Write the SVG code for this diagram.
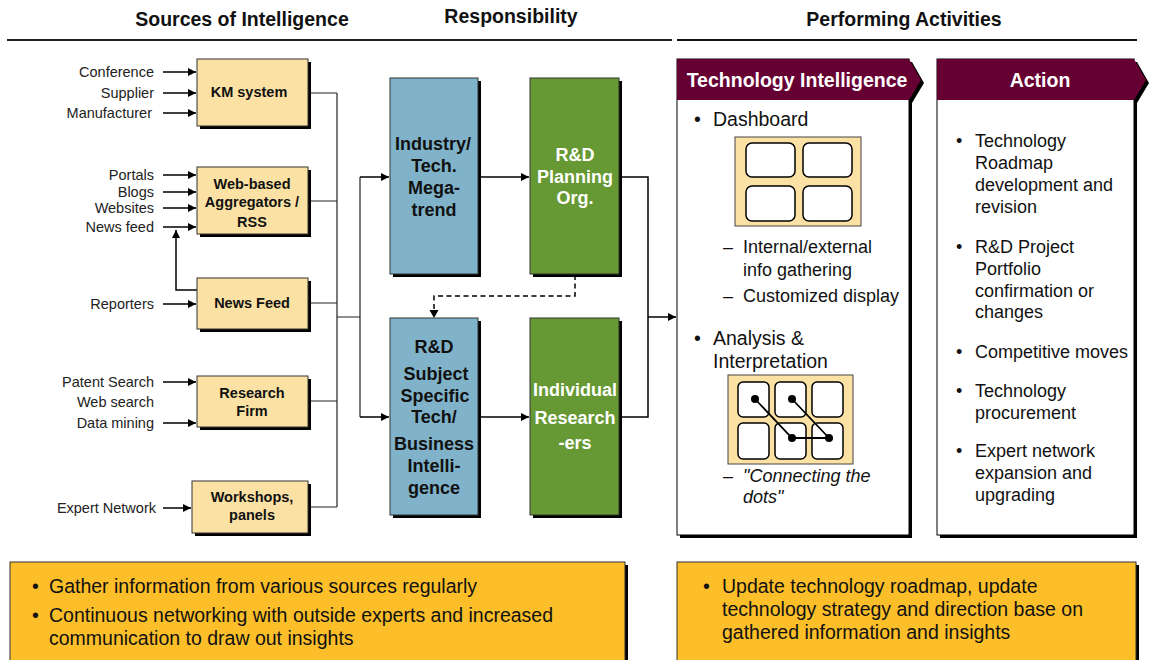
<svg xmlns="http://www.w3.org/2000/svg" width="1149" height="660" viewBox="0 0 1149 660">
<defs>
<marker id="arr" viewBox="0 0 10 10" refX="10" refY="5" markerWidth="8" markerHeight="8" markerUnits="userSpaceOnUse" orient="auto"><path d="M0,0 L10,5 L0,10 Z" fill="#000"/></marker>
<style>
text{font-family:"Liberation Sans",Arial,sans-serif;fill:#111}
.h{font-size:19.5px;font-weight:bold}
.src{font-size:14.5px;text-anchor:end;fill:#222}
.box{fill:#FBE2A4;stroke:#333;stroke-width:1}
.sh{fill:#000}
.bl{font-size:14.5px;font-weight:bold;text-anchor:middle}
.rt{font-size:18px;font-weight:bold;text-anchor:middle}
.wt{fill:#fff}
.blue{fill:#80B3C9;stroke:#333;stroke-width:1}
.green{fill:#669933;stroke:#333;stroke-width:1}
.wire{fill:none;stroke:#222;stroke-width:1.2}
.flow{fill:none;stroke:#000;stroke-width:1.5}
.in{fill:none;stroke:#000;stroke-width:1.5;marker-end:url(#arr)}
.dash{fill:none;stroke:#000;stroke-width:1.5;stroke-dasharray:5,3.5}
.big{font-size:19.5px}
.mid{font-size:18px}
.ph{font-size:19.5px;font-weight:bold;fill:#fff;text-anchor:middle}
.panel{fill:#fff;stroke:#000;stroke-width:1}
.cap{fill:#660033}
.gold{fill:#FCBF29;stroke:#333;stroke-width:1}
.tile{fill:#fff;stroke:#000;stroke-width:1.5}
.tray{fill:#FBE2A4;stroke:#444;stroke-width:1}
</style>
</defs>

<rect width="1149" height="660" fill="#fff"/>

<!-- column headings -->
<g id="headings">
<text class="h" x="242" y="26" text-anchor="middle">Sources of Intelligence</text>
<text class="h" x="511" y="23" text-anchor="middle">Responsibility</text>
<text class="h" x="904" y="26" text-anchor="middle">Performing Activities</text>
<line x1="7" y1="40" x2="672" y2="40" stroke="#222" stroke-width="2"/>
<line x1="677" y1="40" x2="1137" y2="40" stroke="#111" stroke-width="2"/>
</g>

<!-- connectors -->
<g id="connectors">
<!-- inputs to source boxes -->
<line class="in" x1="163" y1="72" x2="196" y2="72"/>
<line class="in" x1="163" y1="93" x2="196" y2="93"/>
<line class="in" x1="163" y1="113" x2="196" y2="113"/>
<line class="in" x1="163" y1="175" x2="196" y2="175"/>
<line class="in" x1="163" y1="192" x2="196" y2="192"/>
<line class="in" x1="163" y1="208" x2="196" y2="208"/>
<line class="in" x1="163" y1="227" x2="196" y2="227"/>
<line class="in" x1="163" y1="304" x2="196" y2="304"/>
<line class="in" x1="163" y1="382" x2="196" y2="382"/>
<line class="in" x1="163" y1="423" x2="196" y2="423"/>
<line class="in" x1="163" y1="508" x2="191" y2="508"/>
<!-- news feed loop back up -->
<path class="in" d="M197,290 H176 V230"/>
<!-- source bus -->
<path class="wire" d="M308,93 H337 M308,201 H337 M308,303 H337 M308,401 H337 M308,507 H337 M337,93 V507 M337,317 H360 M360,177 V417"/>
<line class="in" x1="360" y1="177" x2="389" y2="177"/>
<line class="in" x1="360" y1="417" x2="389" y2="417"/>
<!-- responsibility flow -->
<line class="in" x1="478" y1="177" x2="529" y2="177"/>
<line class="in" x1="478" y1="417" x2="529" y2="417"/>
<path class="flow" d="M619,177 H648 V417 H619"/>
<line class="in" x1="648" y1="317" x2="676" y2="317"/>
<path class="dash" d="M575,275 V296 H434 V310"/>
<path d="M429.5,310 L438.5,310 L434,318 Z" fill="#000"/>
</g>

<!-- source nodes -->
<g id="src-km">
<rect class="sh" x="200" y="62" width="111" height="67"/>
<rect class="box" x="197" y="59" width="111" height="67"/>
<text class="bl" x="249" y="97">KM system</text>
<text class="src" x="154" y="77">Conference</text>
<text class="src" x="154" y="98">Supplier</text>
<text class="src" x="152" y="118">Manufacturer</text>
</g>
<g id="src-web">
<rect class="sh" x="200" y="170" width="111" height="67"/>
<rect class="box" x="197" y="167" width="111" height="67"/>
<text class="bl" x="252" y="189">Web-based</text>
<text class="bl" x="252" y="207">Aggregators /</text>
<text class="bl" x="252" y="227">RSS</text>
<text class="src" x="154" y="180">Portals</text>
<text class="src" x="154" y="197">Blogs</text>
<text class="src" x="154" y="213">Websites</text>
<text class="src" x="154" y="232">News feed</text>
</g>
<g id="src-newsfeed">
<rect class="sh" x="200" y="281" width="111" height="51"/>
<rect class="box" x="197" y="278" width="111" height="51"/>
<text class="bl" x="252" y="308">News Feed</text>
<text class="src" x="154" y="309">Reporters</text>
</g>
<g id="src-research">
<rect class="sh" x="200" y="379" width="111" height="51"/>
<rect class="box" x="197" y="376" width="111" height="51"/>
<text class="bl" x="252" y="398">Research</text>
<text class="bl" x="252" y="416">Firm</text>
<text class="src" x="154" y="387">Patent Search</text>
<text class="src" x="154" y="407">Web search</text>
<text class="src" x="154" y="428">Data mining</text>
</g>
<g id="src-workshops">
<rect class="sh" x="195" y="484" width="116" height="52"/>
<rect class="box" x="192" y="481" width="116" height="52"/>
<text class="bl" x="252" y="502">Workshops,</text>
<text class="bl" x="252" y="520">panels</text>
<text class="src" x="156" y="513">Expert Network</text>
</g>

<!-- responsibility nodes -->
<g id="resp-megatrend">
<rect class="sh" x="393" y="81" width="88" height="196"/>
<rect class="blue" x="390" y="78" width="88" height="196"/>
<text class="rt" x="433" y="150">Industry/</text>
<text class="rt" x="434" y="172">Tech.</text>
<text class="rt" x="434" y="194">Mega-</text>
<text class="rt" x="434" y="216">trend</text>
</g>
<g id="resp-planning">
<rect class="sh" x="533" y="81" width="89" height="196"/>
<rect class="green" x="530" y="78" width="89" height="196"/>
<text class="rt wt" x="575" y="161">R&amp;D</text>
<text class="rt wt" x="575" y="183">Planning</text>
<text class="rt wt" x="575" y="204">Org.</text>
</g>
<g id="resp-subject">
<rect class="sh" x="393" y="321" width="88" height="197"/>
<rect class="blue" x="390" y="318" width="88" height="197"/>
<text class="rt" x="434" y="353">R&amp;D</text>
<text class="rt" x="436" y="380">Subject</text>
<text class="rt" x="435" y="402">Specific</text>
<text class="rt" x="434" y="423">Tech/</text>
<text class="rt" x="434" y="450">Business</text>
<text class="rt" x="434" y="472">Intelli-</text>
<text class="rt" x="434" y="494">gence</text>
</g>
<g id="resp-researchers">
<rect class="sh" x="533" y="321" width="89" height="197"/>
<rect class="green" x="530" y="318" width="89" height="197"/>
<text class="rt wt" x="575" y="396">Individual</text>
<text class="rt wt" x="575" y="424">Research</text>
<text class="rt wt" x="575" y="449">-ers</text>
</g>

<!-- Technology Intelligence panel -->
<g id="panel-ti">
<path class="sh" d="M680,62 H912 L924,83 L912,103 V538 H680 Z"/>
<rect class="panel" x="677" y="59" width="232" height="476"/>
<path class="cap" d="M677,59 H909 L921,80 L909,100 H677 Z"/>
<text class="ph" x="797" y="87">Technology Intelligence</text>
<text class="big" x="694" y="126">•</text>
<text class="big" x="713" y="126">Dashboard</text>
<rect class="tray" x="735" y="137" width="126" height="89"/>
<rect class="tile" x="746" y="143" width="49" height="34" rx="6"/>
<rect class="tile" x="803" y="143" width="49" height="34" rx="6"/>
<rect class="tile" x="746" y="186" width="49" height="35" rx="6"/>
<rect class="tile" x="803" y="186" width="49" height="35" rx="6"/>
<text class="mid" x="723" y="253">–</text>
<text class="mid" x="743" y="253">Internal/external</text>
<text class="mid" x="743" y="276">info gathering</text>
<text class="mid" x="723" y="302">–</text>
<text class="mid" x="743" y="302">Customized display</text>
<text class="big" x="694" y="345">•</text>
<text class="big" x="713" y="345">Analysis &amp;</text>
<text class="big" x="713" y="368">Interpretation</text>
<rect class="tray" x="728" y="375" width="125" height="89"/>
<rect class="tile" x="738" y="382" width="31" height="35" rx="5"/>
<rect class="tile" x="775" y="382" width="31" height="35" rx="5"/>
<rect class="tile" x="812" y="382" width="31" height="35" rx="5"/>
<rect class="tile" x="738" y="423" width="31" height="36" rx="5"/>
<rect class="tile" x="775" y="423" width="31" height="36" rx="5"/>
<rect class="tile" x="812" y="423" width="31" height="36" rx="5"/>
<path d="M755,399 L792,438 H829 L792,399" fill="none" stroke="#000" stroke-width="1.8"/>
<circle cx="755" cy="399" r="4"/>
<circle cx="792" cy="399" r="4"/>
<circle cx="792" cy="438" r="4"/>
<circle cx="829" cy="438" r="4"/>
<text class="mid" x="723" y="482">–</text>
<text class="mid" x="743" y="482" font-style="italic">"Connecting the</text>
<text class="mid" x="743" y="503" font-style="italic">dots"</text>
</g>

<!-- Action panel -->
<g id="panel-action">
<path class="sh" d="M940,62 H1137 L1149,83 L1137,103 V538 H940 Z"/>
<rect class="panel" x="937" y="59" width="197" height="476"/>
<path class="cap" d="M937,59 H1134 L1146,80 L1134,100 H937 Z"/>
<text class="ph" x="1040" y="87">Action</text>
<text class="mid" x="956" y="147">•</text>
<text class="mid" x="975" y="147">Technology</text>
<text class="mid" x="975" y="169">Roadmap</text>
<text class="mid" x="975" y="191">development and</text>
<text class="mid" x="975" y="213">revision</text>
<text class="mid" x="956" y="253">•</text>
<text class="mid" x="975" y="253">R&amp;D Project</text>
<text class="mid" x="975" y="275">Portfolio</text>
<text class="mid" x="975" y="297">confirmation or</text>
<text class="mid" x="975" y="318">changes</text>
<text class="mid" x="956" y="358">•</text>
<text class="mid" x="975" y="358">Competitive moves</text>
<text class="mid" x="956" y="397">•</text>
<text class="mid" x="975" y="397">Technology</text>
<text class="mid" x="975" y="419">procurement</text>
<text class="mid" x="956" y="457">•</text>
<text class="mid" x="975" y="457">Expert network</text>
<text class="mid" x="975" y="479">expansion and</text>
<text class="mid" x="975" y="501">upgrading</text>
</g>

<!-- summary notes -->
<g id="note-sources">
<rect class="sh" x="13" y="565" width="615" height="110"/>
<rect class="gold" x="10" y="562" width="615" height="110"/>
<text class="big" x="32" y="593">•</text>
<text class="big" x="49" y="593">Gather information from various sources regularly</text>
<text class="big" x="32" y="622">•</text>
<text class="big" x="49" y="622">Continuous networking with outside experts and increased</text>
<text class="big" x="49" y="645">communication to draw out insights</text>
</g>
<g id="note-activities">
<rect class="sh" x="680" y="565" width="459" height="110"/>
<rect class="gold" x="677" y="562" width="459" height="110"/>
<text class="big" x="703" y="593">•</text>
<text class="big" x="722" y="593">Update technology roadmap, update</text>
<text class="big" x="722" y="616">technology strategy and direction base on</text>
<text class="big" x="722" y="639">gathered information and insights</text>
</g>
</svg>
